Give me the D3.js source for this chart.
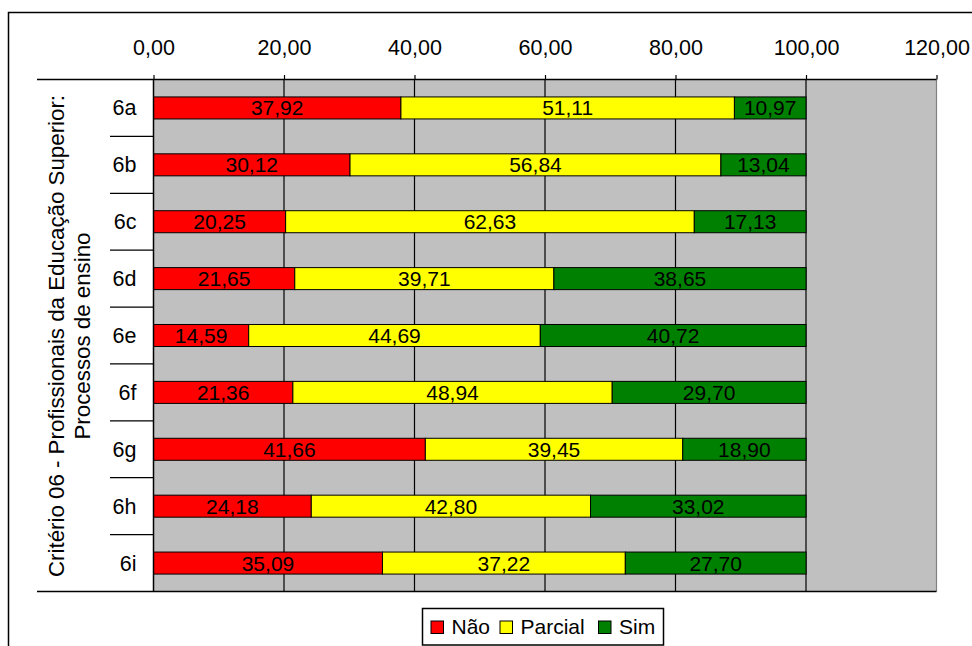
<!DOCTYPE html>
<html>
<head>
<meta charset="utf-8">
<script src="https://cdn.jsdelivr.net/npm/d3@7/dist/d3.min.js"></script>
<style>
  html, body { margin: 0; padding: 0; background: #fff; }
  svg { display: block; }
  text { font-family: "Liberation Sans", Arial, sans-serif; fill: #000; }
</style>
</head>
<body>
<svg id="chart" width="972" height="646"></svg>
<script>
// ---- data ----
const categories = ["6a", "6b", "6c", "6d", "6e", "6f", "6g", "6h", "6i"];
const nao     = [37.92, 30.12, 20.25, 21.65, 14.59, 21.36, 41.66, 24.18, 35.09];
const parcial = [51.11, 56.84, 62.63, 39.71, 44.69, 48.94, 39.45, 42.80, 37.22];
const sim     = [10.97, 13.04, 17.13, 38.65, 40.72, 29.70, 18.90, 33.02, 27.70];
const seriesNames = ["Não", "Parcial", "Sim"];
const seriesColors = ["#FF0000", "#FFFF00", "#008000"];
const xTicks = [0, 20, 40, 60, 80, 100, 120];
const titleLines = ["Critério 06 - Profissionais da Educação Superior:", "Processos de ensino"];

const svg = d3.select("#chart");
const fmt = v => v.toFixed(2).replace(".", ",");

const x = d3.scaleLinear().domain([0, 120]).range([153.5, 936.5]);
const y = d3.scaleBand().domain(categories).range([79.5, 591.5])
  .paddingInner(0.613).paddingOuter(0.3065);

const stackData = categories.map((c, i) => ({ cat: c, "Não": nao[i], "Parcial": parcial[i], "Sim": sim[i] }));
const stacked = d3.stack().keys(seriesNames)(stackData);

// outer frame
svg.append("rect").attr("x", 8.5).attr("y", 12.5).attr("width", 990).attr("height", 700)
  .attr("fill", "none").attr("stroke", "#000").attr("stroke-width", 1.5);

// plot background
const [r0, r1] = y.range();
svg.append("rect").attr("x", x(0)).attr("y", r0).attr("width", x(120) - x(0)).attr("height", r1 - r0)
  .attr("fill", "#C0C0C0");

// vertical gridlines
svg.append("g").selectAll("line").data(xTicks.filter(t => t > 0)).join("line")
  .attr("x1", d => x(d)).attr("x2", d => x(d)).attr("y1", r0).attr("y2", r1)
  .attr("stroke", d => d === 120 ? "#808080" : "#000").attr("stroke-width", 1.2);

// bars
const layer = svg.append("g").selectAll("g").data(stacked).join("g")
  .attr("fill", (d, i) => seriesColors[i]);
layer.selectAll("rect").data(d => d).join("rect")
  .attr("x", d => x(d[0])).attr("width", d => x(d[1]) - x(d[0]))
  .attr("y", d => y(d.data.cat)).attr("height", y.bandwidth())
  .attr("stroke", "#000").attr("stroke-width", 1);

// data labels
layer.selectAll("text").data(d => d).join("text")
  .attr("x", d => (x(d[0]) + x(d[1])) / 2)
  .attr("y", d => y(d.data.cat) + y.bandwidth() / 2 + 7.5)
  .attr("text-anchor", "middle").style("font-size", "21px")
  .text(d => fmt(d[1] - d[0]));

// top axis
const axis = svg.append("g").attr("transform", `translate(0,${r0})`)
  .call(d3.axisTop(x).tickValues(xTicks).tickFormat(fmt).tickSize(4.5).tickPadding(20));
axis.select(".domain").remove();
axis.selectAll(".tick line").attr("stroke", "#000").attr("stroke-width", 1.2);
axis.selectAll(".tick text").style("font-size", "21.5px")
  .style("font-family", "'Liberation Sans', Arial, sans-serif").attr("fill", "#000");

// axis lines
svg.append("line").attr("x1", 37).attr("x2", x(120)).attr("y1", r0).attr("y2", r0)
  .attr("stroke", "#000").attr("stroke-width", 1.5);
svg.append("line").attr("x1", 37).attr("x2", x(120)).attr("y1", r1).attr("y2", r1)
  .attr("stroke", "#000").attr("stroke-width", 1.5);
svg.append("line").attr("x1", x(0)).attr("x2", x(0)).attr("y1", r0).attr("y2", r1)
  .attr("stroke", "#000").attr("stroke-width", 1.5);

// category separators
const sepY = categories.slice(0, -1).map(c => y(c) + y.bandwidth() / 2 + y.step() / 2);
svg.append("g").selectAll("line").data(sepY).join("line")
  .attr("x1", 110).attr("x2", x(0)).attr("y1", d => d).attr("y2", d => d)
  .attr("stroke", "#000").attr("stroke-width", 1.2);

// category labels
svg.append("g").selectAll("text").data(categories).join("text")
  .attr("x", 136.5).attr("y", d => y(d) + y.bandwidth() / 2 + 7.5)
  .attr("text-anchor", "end").style("font-size", "21.5px").text(d => d);

// group title (rotated)
const tt = svg.append("text").attr("transform", "translate(63.5,336) rotate(-90)")
  .attr("text-anchor", "middle").style("font-size", "22.3px");
tt.selectAll("tspan").data(titleLines).join("tspan")
  .attr("x", 0).attr("dy", (d, i) => i === 0 ? 0 : 26.5).text(d => d);

// legend
const lg = svg.append("g");
lg.append("rect").attr("x", 422.5).attr("y", 608.5).attr("width", 241).attr("height", 36.5)
  .attr("fill", "#fff").attr("stroke", "#000").attr("stroke-width", 1.5);
const legX = [431, 500, 598.5];
const items = lg.selectAll("g.item").data(seriesNames).join("g").attr("class", "item")
  .attr("transform", (d, i) => `translate(${legX[i]},621)`);
items.append("rect").attr("width", 12.5).attr("height", 12.5)
  .attr("fill", (d, i) => seriesColors[i]).attr("stroke", "#000").attr("stroke-width", 1);
items.append("text").attr("x", 20.5).attr("y", 13.3).style("font-size", "21px").text(d => d);
</script>
</body>
</html>
